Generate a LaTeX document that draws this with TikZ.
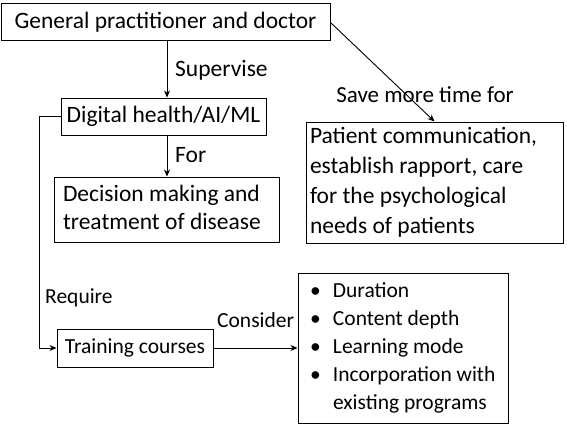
\documentclass[tikz,border=0pt]{standalone}
\usepackage{fontspec}
\setmainfont{Carlito}
\usetikzlibrary{arrows.meta}
\newcommand{\fs}{\fontsize{23.5}{28}\selectfont}
\newcommand{\fss}{\fontsize{21.5}{28}\selectfont}
\newcommand{\bul}{\makebox[23pt][l]{\textbullet}}
\newcommand{\nsp}{\spaceskip=0pt\xspaceskip=0pt\relax}
\begin{document}
\begin{tikzpicture}[x=1pt,y=-1pt,
  box/.style={draw, line width=1pt, inner sep=0pt, font=\fs},
  lbl/.style={inner sep=0pt, font=\fs},
  arr/.style={-{Stealth[length=7pt,width=6pt]}, line width=0.9pt}]
\useasboundingbox (0,0) rectangle (567,428);
\node[box, minimum width=329, minimum height=37] (gp) at (165.5,22.5) {General practitioner and doctor};
\node[box, minimum width=205, minimum height=37] (dh) at (163.5,116.5) {Digital health/AI/ML};
\node[box, inner xsep=9pt, text width=207pt, align=left, minimum height=65] (dm) at (166.5,209.5)
  {\nsp\begin{tabular}{@{}l@{}}Decision making and\\treatment of disease\end{tabular}};
\node[box, inner xsep=4pt, text width=249pt, align=left, minimum height=121, font=\fontsize{23.5}{30}\selectfont] (pc) at (434.5,182.5)
  {\nsp\begin{tabular}{@{}l@{}}Patient communication,\\establish rapport, care\\for the psychological\\needs of patients\end{tabular}};
\node[box, minimum width=156, minimum height=38, font=\fss] (tc) at (135,348) {Training courses};
\node[box, inner xsep=12pt, text width=186pt, align=left, minimum height=150, font=\fss] (bl) at (403,348)
  {\nsp\begin{tabular}{@{}l@{}}\bul Duration\\\bul Content depth\\\bul Learning mode\\\bul Incorporation with\\\hspace*{23pt}existing programs\end{tabular}};
\draw[arr] ([xshift=1.5pt]gp.south) -- ([xshift=1.5pt]gp.south |- dh.north);
\draw[arr] ([xshift=3.5pt]dh.south) -- ([xshift=3.5pt]dh.south |- dm.north);
\draw[arr] (gp.east) -- (pc.north);
\draw[arr] (dh.west) -- ++(-21,0) |- (tc.west);
\draw[arr] (tc.east) -- (bl.west);
\node[lbl, anchor=west] (l1) at (175,70) {Supervise};
\node[lbl, anchor=west] (l2) at (175,155) {For};
\node[lbl, font=\fontsize{23}{28}\selectfont] (l3) at (425,95) {Save more time for};
\node[lbl, anchor=west, font=\fss] (l4) at (45,298) {Require};
\node[lbl, anchor=west, font=\fss] (l5) at (217,320) {Consider};
\end{tikzpicture}
\end{document}
